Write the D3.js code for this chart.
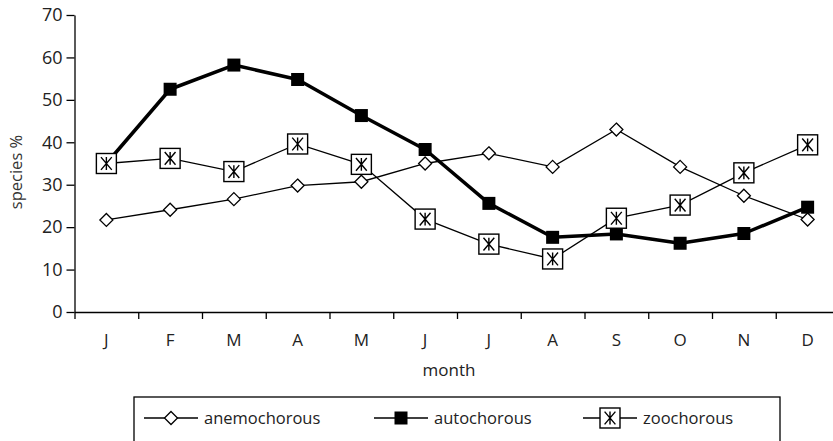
<!DOCTYPE html>
<html>
<head>
<meta charset="utf-8">
<script src="https://cdn.jsdelivr.net/npm/d3@7/dist/d3.min.js"></script>
<style>
  html, body { margin: 0; padding: 0; background: #fff; }
  svg { display: block; font-family: "Open Sans", "Noto Sans", sans-serif; }
</style>
</head>
<body>
<svg id="chart" width="833" height="441"></svg>
<script>
// ---- data ----
const months = ["J", "F", "M", "A", "M", "J", "J", "A", "S", "O", "N", "D"];
const anemochorous = [21.7, 24.1, 26.6, 29.8, 30.7, 35.0, 37.4, 34.2, 43.0, 34.2, 27.4, 21.8];
const autochorous  = [35.0, 52.5, 58.2, 54.8, 46.3, 38.3, 25.6, 17.6, 18.4, 16.2, 18.5, 24.7];
const zoochorous   = [35.0, 36.2, 33.1, 39.6, 34.8, 21.9, 16.0, 12.5, 22.1, 25.2, 32.8, 39.4];
const yTicks = [0, 10, 20, 30, 40, 50, 60, 70];
const seriesNames = ["anemochorous", "autochorous", "zoochorous"];

const svg = d3.select("#chart");
const textColor = "#222";

const x = d3.scaleLinear().domain([0, months.length]).range([74.5, 839.5]);
const y = d3.scaleLinear().domain([0, 70]).range([312, 15]);
const xc = i => x(i + 0.5);

// ---- axes ----
const yAxis = d3.axisLeft(y).tickValues(yTicks).tickSize(8).tickPadding(4).tickSizeOuter(0);
const gy = svg.append("g").attr("transform", `translate(${x(0)},0)`).call(yAxis);
gy.select(".domain").attr("stroke", "#000").attr("stroke-width", 1.3);
gy.selectAll(".tick line").attr("stroke", "#000").attr("stroke-width", 1.3);
gy.selectAll(".tick text").attr("font-size", 18).attr("fill", textColor)
  .attr("font-family", "Open Sans, Noto Sans, sans-serif");

const xAxis = d3.axisBottom(x).tickValues(d3.range(0, months.length + 1)).tickSize(7).tickFormat("").tickSizeOuter(0);
const gx = svg.append("g").attr("transform", `translate(0,${y(0)})`).call(xAxis);
gx.select(".domain").attr("stroke", "#000").attr("stroke-width", 1.3);
gx.selectAll(".tick line").attr("stroke", "#000").attr("stroke-width", 1.3);

svg.append("g").selectAll("text").data(months).join("text")
  .attr("x", (d, i) => xc(i)).attr("y", 346)
  .attr("text-anchor", "middle").attr("font-size", 17).attr("fill", textColor)
  .text(d => d);

svg.append("text").attr("x", 449).attr("y", 376).attr("text-anchor", "middle")
  .attr("font-size", 17).attr("fill", textColor).text("month");

svg.append("text").attr("transform", "translate(22,172) rotate(-90)")
  .attr("text-anchor", "middle").attr("font-size", 16.5).attr("fill", "#333").text("species %");

// ---- markers ----
function diamond(g, cx, cy, r) {
  g.append("path").attr("d", `M${cx},${cy - r}L${cx + r},${cy}L${cx},${cy + r}L${cx - r},${cy}Z`)
    .attr("fill", "#fff").attr("stroke", "#000").attr("stroke-width", 1.3);
}
function filledSquare(g, cx, cy, s) {
  g.append("rect").attr("x", cx - s / 2).attr("y", cy - s / 2).attr("width", s).attr("height", s)
    .attr("fill", "#000");
}
function starSquare(g, cx, cy, s) {
  g.append("rect").attr("x", cx - s / 2).attr("y", cy - s / 2).attr("width", s).attr("height", s)
    .attr("fill", "#fff").attr("stroke", "#000").attr("stroke-width", 1.4);
  const h = s * 0.32, w = s * 0.27;
  g.append("path")
    .attr("d", `M${cx},${cy - h}L${cx},${cy + h}M${cx - w},${cy - h}L${cx + w},${cy + h}M${cx + w},${cy - h}L${cx - w},${cy + h}`)
    .attr("stroke", "#000").attr("stroke-width", 1.4).attr("fill", "none");
}

const line = d3.line().x((d, i) => xc(i)).y(d => y(d));
const plot = svg.append("g");

// anemochorous
plot.append("path").datum(anemochorous).attr("d", line).attr("fill", "none")
  .attr("stroke", "#000").attr("stroke-width", 1.3);
const gA = plot.append("g");
anemochorous.forEach((v, i) => diamond(gA, xc(i), y(v), 6.5));

// autochorous
plot.append("path").datum(autochorous).attr("d", line).attr("fill", "none")
  .attr("stroke", "#000").attr("stroke-width", 3.5).attr("stroke-linejoin", "round");
const gB = plot.append("g");
autochorous.forEach((v, i) => filledSquare(gB, xc(i), y(v), 13));

// zoochorous
plot.append("path").datum(zoochorous).attr("d", line).attr("fill", "none")
  .attr("stroke", "#000").attr("stroke-width", 1.3);
const gC = plot.append("g");
zoochorous.forEach((v, i) => starSquare(gC, xc(i), y(v), 20));

// ---- legend ----
const lg = svg.append("g");
lg.append("rect").attr("x", 134).attr("y", 397).attr("width", 646).attr("height", 80)
  .attr("fill", "none").attr("stroke", "#000").attr("stroke-width", 1.3);
const ly = 418;
const legendX = [144, 374, 583];
const markers = [
  (g, cx) => diamond(g, cx, ly, 6.5),
  (g, cx) => filledSquare(g, cx, ly, 13),
  (g, cx) => starSquare(g, cx, ly, 20)
];
seriesNames.forEach((name, k) => {
  const x0 = legendX[k];
  lg.append("line").attr("x1", x0).attr("x2", x0 + 54).attr("y1", ly).attr("y2", ly)
    .attr("stroke", "#000").attr("stroke-width", 1.3);
  markers[k](lg, x0 + 27);
  lg.append("text").attr("x", x0 + 60).attr("y", ly + 6).attr("font-size", 16.5)
    .attr("fill", textColor).text(name);
});
</script>
</body>
</html>
